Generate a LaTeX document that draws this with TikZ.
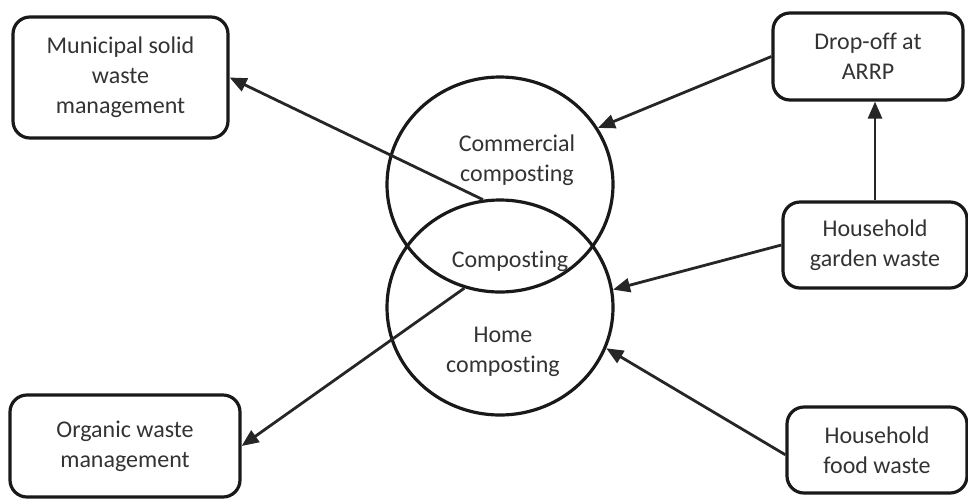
\documentclass[tikz,border=0pt]{standalone}
\usepackage{fontspec}
\setmainfont[Ligatures=NoCommon]{Carlito}
\usetikzlibrary{arrows.meta,shapes.geometric}

\begin{document}
\begin{tikzpicture}[
            x=1pt, y=-1pt,
            box/.style={
                    draw=black!90,
                    line width=3.2pt,
                    rectangle,
                    rounded corners=17pt,
                    align=center,
                    text=black!80,
                    font=\fontsize{24}{30}\selectfont,
                    inner sep=0pt
                },
            ring/.style={
                    draw=black!90,
                    line width=3.2pt,
                    ellipse,
                    inner sep=0pt,
                    minimum width=226pt,
                    minimum height=215pt
                },
            lbl/.style={
                    align=center,
                    text=black!80,
                    font=\fontsize{24}{30}\selectfont,
                    inner sep=0pt
                },
            flow/.style={
                    -{Triangle[length=17pt,width=14pt]},
                    draw=black!85,
                    line width=2.8pt
                }
        ]

        \useasboundingbox (0,0) rectangle (968,499);

        % circles
        \node[ring] (commercial) at (500, 184.5) {};
        \node[ring] (home) at (500, 307.5) {};

        \node[lbl] (commtxt) at (517, 160) {Commercial\\composting};
        \node[lbl] (comptxt) at (510, 261) {Composting};
        \node[lbl] (hometxt) at (503, 352) {Home\\composting};

        % boxes
        \node[box, minimum width=215pt, minimum height=121pt] (msw) at (120.5, 77.5) {Municipal solid\\waste\\management};
        \node[box, minimum width=230pt, minimum height=102pt] (owm) at (125, 446) {Organic waste\\management};
        \node[box, minimum width=190pt, minimum height=87pt] (arrp) at (868, 56.5) {Drop-off at\\ARRP};
        \node[box, minimum width=184pt, minimum height=86pt] (garden) at (875, 245) {Household\\garden waste};
        \node[box, minimum width=180pt, minimum height=86pt] (food) at (877, 450) {Household\\food waste};

        % arrows
        \draw[flow] (home.99) to (msw.east);
        \draw[flow] (commercial.251) to (owm.east);

        \draw[flow] (arrp.west) to (commercial.30);
        \draw[flow] (garden.north) to (garden.north |- arrp.south);
        \draw[flow] (garden.west) to (home.9);
        \draw[flow] (food.183) to (home.-21);

    \end{tikzpicture}
\end{document}
